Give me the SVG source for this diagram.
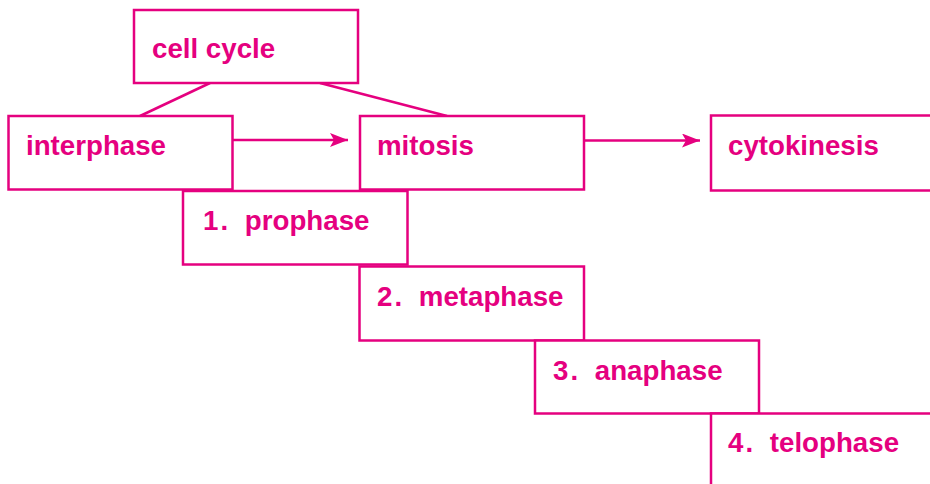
<svg xmlns="http://www.w3.org/2000/svg" width="930" height="484" viewBox="0 0 930 484">
  <defs>
    <style>
      .box { fill: #ffffff; stroke: #e5007f; stroke-width: 2.5; }
      .lbl { fill: #e5007f; font-family: "Liberation Sans", Arial, sans-serif; font-weight: bold; font-size: 27.7px; }
      .con { stroke: #e5007f; stroke-width: 2.5; fill: none; }
    </style>
    <marker id="arr" markerUnits="userSpaceOnUse" markerWidth="19" markerHeight="16" refX="18" refY="7" orient="auto">
      <path d="M0,0 L18,7 L0,14 L4,7 Z" fill="#e5007f"/>
    </marker>
  </defs>
  <rect width="930" height="484" fill="#ffffff"/>

  <g id="connectors">
    <line class="con" x1="210" y1="83" x2="140" y2="116"/>
    <line class="con" x1="320" y1="83" x2="447" y2="116"/>
    <line class="con" x1="233" y1="140" x2="348" y2="140" marker-end="url(#arr)"/>
    <line class="con" x1="584" y1="140.5" x2="700" y2="140.5" marker-end="url(#arr)"/>
  </g>

  <g id="cell-cycle">
    <rect class="box" x="134" y="10" width="224" height="73"/>
    <text class="lbl" x="152" y="58">cell cycle</text>
  </g>
  <g id="interphase">
    <rect class="box" x="8.5" y="116" width="224" height="73.5"/>
    <text class="lbl" x="26" y="155">interphase</text>
  </g>
  <g id="mitosis">
    <rect class="box" x="360" y="116" width="224" height="73.5"/>
    <text class="lbl" x="377" y="155">mitosis</text>
  </g>
  <g id="cytokinesis">
    <rect class="box" x="711" y="115.5" width="240" height="75"/>
    <text class="lbl" x="728" y="154.5">cytokinesis</text>
  </g>
  <g id="prophase">
    <rect class="box" x="183" y="191" width="224.5" height="73.5"/>
    <text class="lbl" x="203" y="230">1<tspan dx="2">.</tspan> <tspan dx="9">prophase</tspan></text>
  </g>
  <g id="metaphase">
    <rect class="box" x="359.5" y="266.5" width="224.5" height="74"/>
    <text class="lbl" x="377" y="305.5">2<tspan dx="2">.</tspan> <tspan dx="9">metaphase</tspan></text>
  </g>
  <g id="anaphase">
    <rect class="box" x="535" y="340.5" width="224" height="73"/>
    <text class="lbl" x="553" y="379.5">3<tspan dx="2">.</tspan> <tspan dx="9">anaphase</tspan></text>
  </g>
  <g id="telophase">
    <rect class="box" x="711" y="413.5" width="240" height="90"/>
    <text class="lbl" x="728" y="452">4<tspan dx="2">.</tspan> <tspan dx="9">telophase</tspan></text>
  </g>
</svg>
